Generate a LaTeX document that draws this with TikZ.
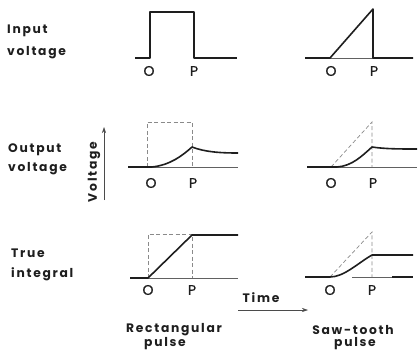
\documentclass[tikz,border=0pt]{standalone}
\usepackage{fontspec}
\setmainfont{Poppins}[LetterSpace=14]
\newfontfamily\tickfont{Poppins}[LetterSpace=0,FakeBold=0.6]
\usetikzlibrary{arrows.meta}
\definecolor{ink}{HTML}{1E1E1E}
\definecolor{dashc}{HTML}{8A8A8A}
\tikzset{
  lbl/.style={font=\fontsize{12.3}{14}\selectfont\bfseries, text=ink, inner sep=0pt},
  tick/.style={font=\tickfont\fontsize{14}{15}\selectfont, text=ink, inner sep=0pt},
  thick line/.style={draw=ink, line width=1.6pt, line join=round},
  thin line/.style={draw=ink!70, line width=0.5pt},
  dash line/.style={draw=dashc, line width=0.7pt, dash pattern=on 4pt off 2.5pt},
  axis arrow/.style={draw=ink!80, line width=0.6pt, -{Stealth[length=6pt,width=4pt]}}
}
\begin{document}
\begin{tikzpicture}[x=1pt,y=-1pt]
\useasboundingbox (0,0) rectangle (419,359);
% ---- row labels
\node[lbl, anchor=west] (in1) at (7,31) {Input};
\node[lbl, anchor=west] (in2) at (7,53) {voltage};
\node[lbl, anchor=west] (out1) at (8,150) {Output};
\node[lbl, anchor=west] (out2) at (8,169) {voltage};
\node[lbl, anchor=west] (tr1) at (11,253) {True};
\node[lbl, anchor=west] (tr2) at (11,274) {integral};
% ---- column labels
\node[lbl] (rect1) at (174,330) {Rectangular};
\node[lbl] (rect2) at (165,344) {pulse};
\node[lbl] (saw1) at (353,330) {Saw-tooth};
\node[lbl] (saw2) at (355,344) {pulse};
% ---- axes labels
\node[lbl, rotate=90] (volt) at (94,172) {Voltage};
\coordinate (va0) at (104,200);
\coordinate (va1) at (104,127);
\draw[axis arrow] (va0) -- (va1);
\node[lbl] (time) at (261,298) {Time};
\coordinate (ta0) at (238,310);
\coordinate (ta1) at (308,310);
\draw[axis arrow] (ta0) -- (ta1);

% ===== Row 1: input
% rectangular
\draw[thick line] (135,58) -- (150,58) -- (150,12) -- (194,12) -- (194,58) -- (237,58);
\node[tick] (o1) at (149,71) {O};
\node[tick] (p1) at (194,71) {P};
% saw-tooth
\draw[thin line] (305,58) -- (413,58);
\draw[thick line] (305,58) -- (330,58) -- (373,9) -- (373,58) -- (413,58);
\node[tick] (o2) at (331,71) {O};
\node[tick] (p2) at (374,71) {P};

% ===== Row 2: output
% rectangular
\draw[thin line] (152,167) -- (238,167);
\draw[dash line] (147,167) -- (147,122) -- (192,122) -- (192,167);
\draw[thick line] (128,167) -- (152,167) .. controls (170,165) and (182,156) .. (192,147)
   .. controls (205,152) and (220,153) .. (238,153);
\node[tick] (o3) at (151,183) {O};
\node[tick] (p3) at (193,183) {P};
% saw-tooth
\draw[thin line] (337,167) -- (417,167);
\draw[dash line] (331,167) -- (372,122) -- (372,167);
\draw[thick line] (307,167) -- (337,167) .. controls (352,166) and (362,156) .. (372,147)
   .. controls (385,149) and (400,149) .. (417,149);
\node[tick] (o4) at (331,183) {O};
\node[tick] (p4) at (373,183) {P};

% ===== Row 3: true integral
% rectangular
\draw[thin line] (148,278) -- (238,278);
\draw[dash line] (148,278) -- (148,234) -- (192,234) -- (192,278);
\draw[thick line] (130,278) -- (148,278) -- (192,235) -- (238,235);
\node[tick] (o5) at (148,290) {O};
\node[tick] (p5) at (192,290) {P};
% saw-tooth
\draw[thin line] (352,277) -- (413,277);
\draw[thick line] (392,277) -- (413,277);
\draw[dash line] (330,277) -- (372,232) -- (372,277);
\draw[thick line] (305,277) -- (330,277) .. controls (344,277) and (358,263) .. (372,255) -- (413,255);
\node[tick] (o6) at (330,290) {O};
\node[tick] (p6) at (372,290) {P};
\end{tikzpicture}
\end{document}
